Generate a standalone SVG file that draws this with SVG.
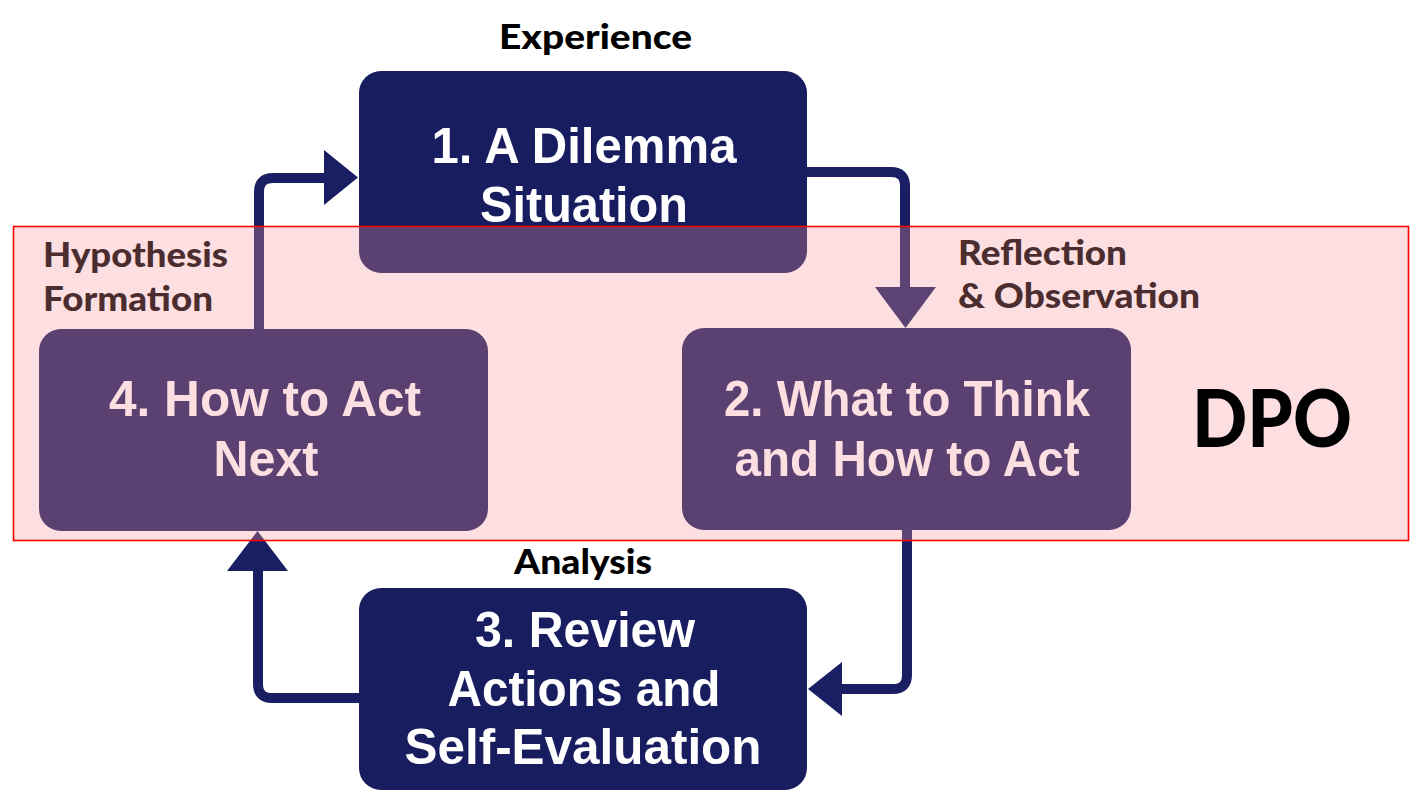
<svg xmlns="http://www.w3.org/2000/svg" width="1423" height="807" viewBox="0 0 1423 807">
  <style>
    .box { fill: #171d5f; }
    .btxt { fill: #ffffff; font-family: "Liberation Sans", Arial, sans-serif; font-weight: bold; font-size: 50px; text-anchor: middle; }
    .lbl { fill: #000000; font-family: Lato, "Noto Sans", sans-serif; font-weight: 900; font-size: 35px; }
    .conn { fill: none; stroke: #1a1f64; stroke-width: 10; }
    .head { fill: #1a1f64; }
  </style>
  <rect width="1423" height="807" fill="#ffffff"/>
  <g id="connectors">
    <path class="conn" d="M 797 172 H 891 Q 905 172 905 186 V 292"/>
    <polygon class="head" points="875,287 936,287 905.5,328"/>
    <path class="conn" d="M 907 525 V 675 Q 907 689 893 689 H 838"/>
    <polygon class="head" points="842,662 842,716 808,689"/>
    <path class="conn" d="M 368 698 H 272 Q 258 698 258 684 V 566"/>
    <polygon class="head" points="227,571 288,571 257.5,531"/>
    <path class="conn" d="M 259 334 V 192 Q 259 178 273 178 H 328"/>
    <polygon class="head" points="324,150 324,205 358,177.5"/>
  </g>
  <g id="node1">
    <rect class="box" x="359" y="71" width="448" height="202" rx="22"/>
    <text class="btxt" x="584" y="163" textLength="305" lengthAdjust="spacingAndGlyphs">1. A Dilemma</text>
    <text class="btxt" x="584" y="222" textLength="208" lengthAdjust="spacingAndGlyphs">Situation</text>
  </g>
  <g id="node2">
    <rect class="box" x="682" y="328" width="449" height="202" rx="22"/>
    <text class="btxt" x="907" y="416" textLength="366" lengthAdjust="spacingAndGlyphs">2. What to Think</text>
    <text class="btxt" x="907" y="476" textLength="345" lengthAdjust="spacingAndGlyphs">and How to Act</text>
  </g>
  <g id="node3">
    <rect class="box" x="359" y="588" width="448" height="202" rx="22"/>
    <text class="btxt" x="585" y="647" textLength="220" lengthAdjust="spacingAndGlyphs">3. Review</text>
    <text class="btxt" x="584" y="706" textLength="273" lengthAdjust="spacingAndGlyphs">Actions and</text>
    <text class="btxt" x="583" y="764" textLength="357" lengthAdjust="spacingAndGlyphs">Self-Evaluation</text>
  </g>
  <g id="node4">
    <rect class="box" x="39" y="329" width="449" height="202" rx="22"/>
    <text class="btxt" x="265" y="416" textLength="312" lengthAdjust="spacingAndGlyphs">4. How to Act</text>
    <text class="btxt" x="266" y="476" textLength="105" lengthAdjust="spacingAndGlyphs">Next</text>
  </g>
  <g id="labels">
    <text class="lbl" x="499" y="49" textLength="193" lengthAdjust="spacingAndGlyphs">Experience</text>
    <text class="lbl" x="43" y="267" textLength="185" lengthAdjust="spacingAndGlyphs">Hypothesis</text>
    <text class="lbl" x="43" y="311" textLength="170" lengthAdjust="spacingAndGlyphs">Formation</text>
    <text class="lbl" x="958" y="265" textLength="169" lengthAdjust="spacingAndGlyphs">Reflection</text>
    <text class="lbl" x="958" y="308" textLength="242" lengthAdjust="spacingAndGlyphs">&amp; Observation</text>
    <text class="lbl" x="514" y="574" textLength="138" lengthAdjust="spacingAndGlyphs">Analysis</text>
  </g>
  <g id="dpo">
    <rect x="13.5" y="226.5" width="1395" height="314" fill="rgb(248,148,155)" fill-opacity="0.3" stroke="none"/>
    <rect x="13.5" y="226.5" width="1395" height="314" fill="none" stroke="#ff0000" stroke-width="1.6"/>
    <text x="1192" y="447" font-family="Lato, 'Noto Sans', sans-serif" font-weight="900" font-size="80" textLength="160" lengthAdjust="spacingAndGlyphs" fill="#000000">DPO</text>
  </g>
</svg>
